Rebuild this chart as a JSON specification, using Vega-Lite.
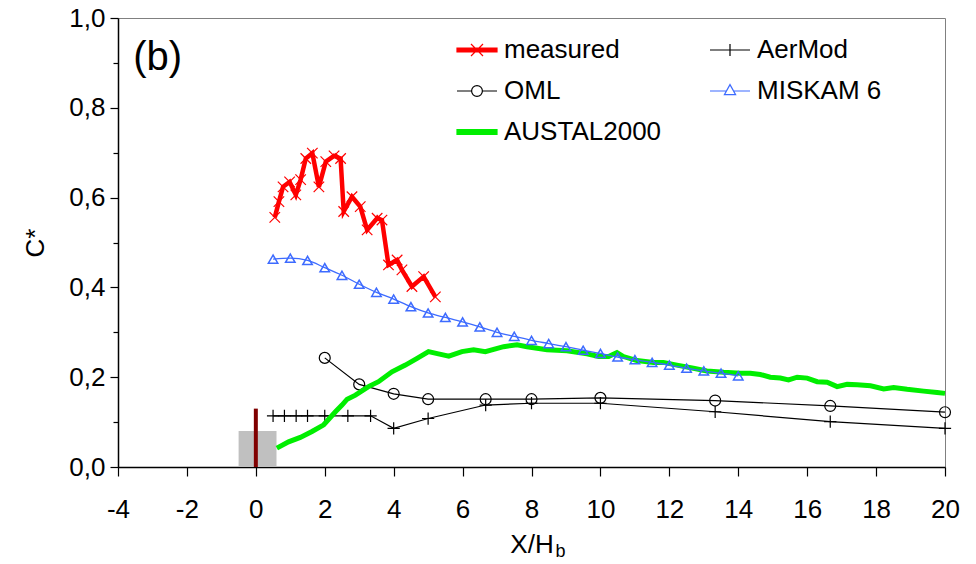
{
  "$schema": "https://vega.github.io/schema/vega-lite/v6.json",
  "width": 827,
  "height": 449,
  "autosize": {"type": "none"},
  "padding": {"left": 118, "top": 18, "right": 31, "bottom": 97},
  "background": "white",
  "config": {
    "font": "Liberation Sans",
    "view": {"stroke": "#808080", "strokeWidth": 1},
    "axis": {
      "grid": false,
      "domainColor": "black",
      "domainWidth": 1.5,
      "tickColor": "black",
      "tickWidth": 1.2,
      "labelFont": "Liberation Sans",
      "labelFontSize": 26,
      "labelColor": "black",
      "titleFont": "Liberation Sans",
      "titleFontSize": 26,
      "titleFontWeight": "normal",
      "titleColor": "black",
      "labelOverlap": false,
      "labelBound": false,
      "labelFlush": false
    }
  },
  "datasets": {
    "curves": [
      {"series": "measured", "x": 0.55, "y": 0.556},
      {"series": "measured", "x": 0.67, "y": 0.591},
      {"series": "measured", "x": 0.79, "y": 0.624},
      {"series": "measured", "x": 0.98, "y": 0.635},
      {"series": "measured", "x": 1.16, "y": 0.606},
      {"series": "measured", "x": 1.30, "y": 0.640},
      {"series": "measured", "x": 1.45, "y": 0.687},
      {"series": "measured", "x": 1.64, "y": 0.699},
      {"series": "measured", "x": 1.83, "y": 0.624},
      {"series": "measured", "x": 2.03, "y": 0.680},
      {"series": "measured", "x": 2.27, "y": 0.693},
      {"series": "measured", "x": 2.46, "y": 0.687},
      {"series": "measured", "x": 2.55, "y": 0.569},
      {"series": "measured", "x": 2.79, "y": 0.602},
      {"series": "measured", "x": 3.03, "y": 0.580},
      {"series": "measured", "x": 3.23, "y": 0.528},
      {"series": "measured", "x": 3.52, "y": 0.554},
      {"series": "measured", "x": 3.66, "y": 0.550},
      {"series": "measured", "x": 3.85, "y": 0.450},
      {"series": "measured", "x": 4.10, "y": 0.461},
      {"series": "measured", "x": 4.24, "y": 0.439},
      {"series": "measured", "x": 4.53, "y": 0.402},
      {"series": "measured", "x": 4.87, "y": 0.424},
      {"series": "measured", "x": 5.21, "y": 0.379},
      {"series": "AerMod", "x": 0.5, "y": 0.114},
      {"series": "AerMod", "x": 0.83, "y": 0.114},
      {"series": "AerMod", "x": 1.17, "y": 0.114},
      {"series": "AerMod", "x": 1.5, "y": 0.114},
      {"series": "AerMod", "x": 2.0, "y": 0.114},
      {"series": "AerMod", "x": 2.67, "y": 0.114},
      {"series": "AerMod", "x": 3.33, "y": 0.114},
      {"series": "AerMod", "x": 4.0, "y": 0.086},
      {"series": "AerMod", "x": 5.0, "y": 0.108},
      {"series": "AerMod", "x": 6.67, "y": 0.138},
      {"series": "AerMod", "x": 8.0, "y": 0.142},
      {"series": "AerMod", "x": 10.0, "y": 0.142},
      {"series": "AerMod", "x": 13.33, "y": 0.123},
      {"series": "AerMod", "x": 16.67, "y": 0.101},
      {"series": "AerMod", "x": 20.0, "y": 0.086},
      {"series": "OML", "x": 2.0, "y": 0.243},
      {"series": "OML", "x": 3.0, "y": 0.184},
      {"series": "OML", "x": 4.0, "y": 0.163},
      {"series": "OML", "x": 5.0, "y": 0.151},
      {"series": "OML", "x": 6.67, "y": 0.151},
      {"series": "OML", "x": 8.0, "y": 0.151},
      {"series": "OML", "x": 10.0, "y": 0.154},
      {"series": "OML", "x": 13.33, "y": 0.148},
      {"series": "OML", "x": 16.67, "y": 0.136},
      {"series": "OML", "x": 20.0, "y": 0.122},
      {"series": "MISKAM 6", "x": 0.5, "y": 0.463},
      {"series": "MISKAM 6", "x": 1.0, "y": 0.465},
      {"series": "MISKAM 6", "x": 1.5, "y": 0.460},
      {"series": "MISKAM 6", "x": 2.0, "y": 0.444},
      {"series": "MISKAM 6", "x": 2.5, "y": 0.427},
      {"series": "MISKAM 6", "x": 3.0, "y": 0.407},
      {"series": "MISKAM 6", "x": 3.5, "y": 0.389},
      {"series": "MISKAM 6", "x": 4.0, "y": 0.374},
      {"series": "MISKAM 6", "x": 4.5, "y": 0.357},
      {"series": "MISKAM 6", "x": 5.0, "y": 0.343},
      {"series": "MISKAM 6", "x": 5.5, "y": 0.333},
      {"series": "MISKAM 6", "x": 6.0, "y": 0.323},
      {"series": "MISKAM 6", "x": 6.5, "y": 0.312},
      {"series": "MISKAM 6", "x": 7.0, "y": 0.300},
      {"series": "MISKAM 6", "x": 7.5, "y": 0.291},
      {"series": "MISKAM 6", "x": 8.0, "y": 0.282},
      {"series": "MISKAM 6", "x": 8.5, "y": 0.275},
      {"series": "MISKAM 6", "x": 9.0, "y": 0.268},
      {"series": "MISKAM 6", "x": 9.5, "y": 0.260},
      {"series": "MISKAM 6", "x": 10.0, "y": 0.253},
      {"series": "MISKAM 6", "x": 10.5, "y": 0.245},
      {"series": "MISKAM 6", "x": 11.0, "y": 0.239},
      {"series": "MISKAM 6", "x": 11.5, "y": 0.233},
      {"series": "MISKAM 6", "x": 12.0, "y": 0.227},
      {"series": "MISKAM 6", "x": 12.5, "y": 0.220},
      {"series": "MISKAM 6", "x": 13.0, "y": 0.214},
      {"series": "MISKAM 6", "x": 13.5, "y": 0.209},
      {"series": "MISKAM 6", "x": 14.0, "y": 0.203},
      {"series": "AUSTAL2000", "x": 0.61, "y": 0.042},
      {"series": "AUSTAL2000", "x": 0.95, "y": 0.056},
      {"series": "AUSTAL2000", "x": 1.29, "y": 0.066},
      {"series": "AUSTAL2000", "x": 1.63, "y": 0.079},
      {"series": "AUSTAL2000", "x": 1.97, "y": 0.094},
      {"series": "AUSTAL2000", "x": 2.31, "y": 0.123},
      {"series": "AUSTAL2000", "x": 2.50, "y": 0.138},
      {"series": "AUSTAL2000", "x": 2.65, "y": 0.151},
      {"series": "AUSTAL2000", "x": 2.89, "y": 0.160},
      {"series": "AUSTAL2000", "x": 3.27, "y": 0.179},
      {"series": "AUSTAL2000", "x": 3.56, "y": 0.190},
      {"series": "AUSTAL2000", "x": 3.95, "y": 0.212},
      {"series": "AUSTAL2000", "x": 4.34, "y": 0.227},
      {"series": "AUSTAL2000", "x": 4.68, "y": 0.242},
      {"series": "AUSTAL2000", "x": 5.01, "y": 0.257},
      {"series": "AUSTAL2000", "x": 5.30, "y": 0.252},
      {"series": "AUSTAL2000", "x": 5.60, "y": 0.247},
      {"series": "AUSTAL2000", "x": 5.98, "y": 0.257},
      {"series": "AUSTAL2000", "x": 6.32, "y": 0.261},
      {"series": "AUSTAL2000", "x": 6.66, "y": 0.257},
      {"series": "AUSTAL2000", "x": 7.19, "y": 0.268},
      {"series": "AUSTAL2000", "x": 7.58, "y": 0.272},
      {"series": "AUSTAL2000", "x": 7.87, "y": 0.268},
      {"series": "AUSTAL2000", "x": 8.45, "y": 0.261},
      {"series": "AUSTAL2000", "x": 9.03, "y": 0.259},
      {"series": "AUSTAL2000", "x": 9.61, "y": 0.252},
      {"series": "AUSTAL2000", "x": 9.95, "y": 0.246},
      {"series": "AUSTAL2000", "x": 10.24, "y": 0.246},
      {"series": "AUSTAL2000", "x": 10.48, "y": 0.255},
      {"series": "AUSTAL2000", "x": 10.67, "y": 0.246},
      {"series": "AUSTAL2000", "x": 11.06, "y": 0.237},
      {"series": "AUSTAL2000", "x": 11.54, "y": 0.233},
      {"series": "AUSTAL2000", "x": 11.83, "y": 0.233},
      {"series": "AUSTAL2000", "x": 12.22, "y": 0.227},
      {"series": "AUSTAL2000", "x": 12.70, "y": 0.220},
      {"series": "AUSTAL2000", "x": 13.09, "y": 0.214},
      {"series": "AUSTAL2000", "x": 13.58, "y": 0.211},
      {"series": "AUSTAL2000", "x": 14.06, "y": 0.209},
      {"series": "AUSTAL2000", "x": 14.35, "y": 0.209},
      {"series": "AUSTAL2000", "x": 14.64, "y": 0.206},
      {"series": "AUSTAL2000", "x": 14.93, "y": 0.200},
      {"series": "AUSTAL2000", "x": 15.22, "y": 0.198},
      {"series": "AUSTAL2000", "x": 15.46, "y": 0.194},
      {"series": "AUSTAL2000", "x": 15.71, "y": 0.200},
      {"series": "AUSTAL2000", "x": 16.0, "y": 0.198},
      {"series": "AUSTAL2000", "x": 16.29, "y": 0.190},
      {"series": "AUSTAL2000", "x": 16.58, "y": 0.189},
      {"series": "AUSTAL2000", "x": 16.87, "y": 0.179},
      {"series": "AUSTAL2000", "x": 17.16, "y": 0.184},
      {"series": "AUSTAL2000", "x": 17.45, "y": 0.183},
      {"series": "AUSTAL2000", "x": 17.84, "y": 0.181},
      {"series": "AUSTAL2000", "x": 18.22, "y": 0.174},
      {"series": "AUSTAL2000", "x": 18.51, "y": 0.177},
      {"series": "AUSTAL2000", "x": 18.90, "y": 0.173},
      {"series": "AUSTAL2000", "x": 19.38, "y": 0.169},
      {"series": "AUSTAL2000", "x": 19.77, "y": 0.166},
      {"series": "AUSTAL2000", "x": 20.0, "y": 0.164}
    ]
  },
  "data": {"name": "curves"},
  "layer": [
    {
      "data": {"values": [{}]},
      "mark": {"type": "rect", "color": "#c0c0c0"},
      "encoding": {
        "x": {"datum": -0.5, "type": "quantitative", "scale": {"domain": [-4, 20], "nice": false, "zero": false},
          "axis": {
            "title": "X/H",
            "values": [-4,-3,-2,-1,0,1,2,3,4,5,6,7,8,9,10,11,12,13,14,15,16,17,18,19,20],
            "labelExpr": "datum.value % 2 === 0 ? '' + datum.value : ''",
            "tickSize": {"condition": {"test": "datum.value % 2 === 0", "value": 9}, "value": 7},
            "labelPadding": 20,
            "titlePadding": 9
          }},
        "x2": {"datum": 0.6},
        "y": {"datum": 0, "type": "quantitative", "scale": {"domain": [0, 1], "nice": false, "zero": true},
          "axis": {
            "title": "C*",
            "values": [0,0.1,0.2,0.3,0.4,0.5,0.6,0.7,0.8,0.9,1.0],
            "labelExpr": "round(datum.value*10) % 2 === 0 ? replace(format(datum.value, '.1f'), '.', ',') : ''",
            "tickSize": {"condition": {"test": "round(datum.value*10) % 2 === 0", "value": 8}, "value": 5},
            "labelPadding": 5,
            "titlePadding": 20
          }},
        "y2": {"datum": 0.08}
      }
    },
    {
      "data": {"values": [{}]},
      "mark": {"type": "rule", "color": "#800000", "strokeWidth": 4},
      "encoding": {
        "x": {"datum": 0, "type": "quantitative"},
        "y": {"datum": 0, "type": "quantitative"},
        "y2": {"datum": 0.13}
      }
    },
    {
      "transform": [{"filter": "datum.series === 'AerMod'"}],
      "mark": {"type": "line", "strokeWidth": 1.2},
      "encoding": {
        "x": {"field": "x", "type": "quantitative"},
        "y": {"field": "y", "type": "quantitative"},
        "color": {
          "field": "series", "type": "nominal",
          "scale": {"domain": ["measured", "OML", "AUSTAL2000", "AerMod", "MISKAM 6"],
                    "range": ["#ff0000", "#000000", "#00ee00", "#000000", "#3d6bff"]},
          "legend": {
            "title": null,
            "orient": "none",
            "legendX": 338,
            "legendY": 11,
            "columns": 2,
            "columnPadding": 45,
            "rowPadding": 7,
            "padding": 0,
            "symbolSize": 1600,
            "symbolStrokeWidth": 1.2,
            "labelFont": "Liberation Sans",
            "labelFontSize": 26,
            "labelColor": "black",
            "labelOffset": 6,
            "labelLimit": 300,
            "encode": {
              "symbols": {
                "update": {
                  "shape": {"signal": "datum.value === 'measured' ? 'M-1,-0.1H1V0.1H-1ZM-0.3,-0.3L0.3,0.3M-0.3,0.3L0.3,-0.3' : datum.value === 'AerMod' ? 'M-1,0H1M0,-0.3V0.3' : datum.value === 'OML' ? 'M-1,0H-0.27M0.27,0H1M0.27,0A0.27,0.27,0,1,1,-0.27,0A0.27,0.27,0,1,1,0.27,0' : datum.value === 'MISKAM 6' ? 'M-1,0H-0.2M0.2,0H1M0,-0.32L0.28,0.18L-0.28,0.18Z' : 'M-1,-0.12H1V0.12H-1Z'"},
                  "fill": {"signal": "datum.value === 'measured' ? '#ff0000' : datum.value === 'AUSTAL2000' ? '#00ee00' : 'transparent'"},
                  "stroke": {"signal": "datum.value === 'measured' ? '#ff0000' : datum.value === 'AUSTAL2000' ? '#00ee00' : datum.value === 'MISKAM 6' ? '#3d6bff' : '#000000'"},
                  "strokeWidth": {"value": 1.2},
                  "opacity": {"value": 1}
                }
              }
            }
          }
        }
      }
    },
    {
      "transform": [{"filter": "datum.series === 'AerMod'"}],
      "mark": {"type": "point", "shape": "M-1,0H1M0,-1V1", "size": 150, "filled": false, "color": "#000000", "strokeWidth": 1.2, "opacity": 1},
      "encoding": {
        "x": {"field": "x", "type": "quantitative"},
        "y": {"field": "y", "type": "quantitative"}
      }
    },
    {
      "transform": [{"filter": "datum.series === 'OML'"}],
      "mark": {"type": "line", "strokeWidth": 1.2},
      "encoding": {
        "x": {"field": "x", "type": "quantitative"},
        "y": {"field": "y", "type": "quantitative"},
        "color": {"field": "series", "type": "nominal"}
      }
    },
    {
      "transform": [{"filter": "datum.series === 'OML'"}],
      "mark": {"type": "point", "shape": "circle", "size": 120, "filled": false, "color": "#000000", "strokeWidth": 1.2, "opacity": 1},
      "encoding": {
        "x": {"field": "x", "type": "quantitative"},
        "y": {"field": "y", "type": "quantitative"}
      }
    },
    {
      "transform": [{"filter": "datum.series === 'AUSTAL2000'"}],
      "mark": {"type": "line", "strokeWidth": 5},
      "encoding": {
        "x": {"field": "x", "type": "quantitative"},
        "y": {"field": "y", "type": "quantitative"},
        "color": {"field": "series", "type": "nominal"}
      }
    },
    {
      "transform": [{"filter": "datum.series === 'MISKAM 6'"}],
      "mark": {"type": "line", "strokeWidth": 1.3, "interpolate": "monotone"},
      "encoding": {
        "x": {"field": "x", "type": "quantitative"},
        "y": {"field": "y", "type": "quantitative"},
        "color": {"field": "series", "type": "nominal"}
      }
    },
    {
      "transform": [{"filter": "datum.series === 'MISKAM 6'"}],
      "mark": {"type": "point", "shape": "triangle-up", "size": 90, "filled": false, "color": "#3d6bff", "strokeWidth": 1.5, "opacity": 1},
      "encoding": {
        "x": {"field": "x", "type": "quantitative"},
        "y": {"field": "y", "type": "quantitative"}
      }
    },
    {
      "transform": [{"filter": "datum.series === 'measured'"}],
      "mark": {"type": "line", "strokeWidth": 4.5},
      "encoding": {
        "x": {"field": "x", "type": "quantitative"},
        "y": {"field": "y", "type": "quantitative"},
        "color": {"field": "series", "type": "nominal"}
      }
    },
    {
      "transform": [{"filter": "datum.series === 'measured'"}],
      "mark": {"type": "point", "shape": "M-1,-1L1,1M-1,1L1,-1", "size": 110, "filled": false, "color": "#ff0000", "strokeWidth": 1.2, "opacity": 1},
      "encoding": {
        "x": {"field": "x", "type": "quantitative"},
        "y": {"field": "y", "type": "quantitative"}
      }
    },
    {
      "data": {"values": [{}]},
      "mark": {"type": "text", "text": "(b)", "fontSize": 40, "font": "Liberation Sans", "color": "black", "align": "center", "baseline": "middle"},
      "encoding": {
        "x": {"datum": -2.85, "type": "quantitative"},
        "y": {"datum": 0.91, "type": "quantitative"}
      }
    },
    {
      "data": {"values": [{}]},
      "mark": {"type": "text", "text": "b", "fontSize": 18, "font": "Liberation Sans", "color": "black", "align": "left", "baseline": "middle", "clip": false},
      "encoding": {
        "x": {"datum": 8.7, "type": "quantitative"},
        "y": {"datum": -0.19, "type": "quantitative"}
      }
    }
  ]
}
